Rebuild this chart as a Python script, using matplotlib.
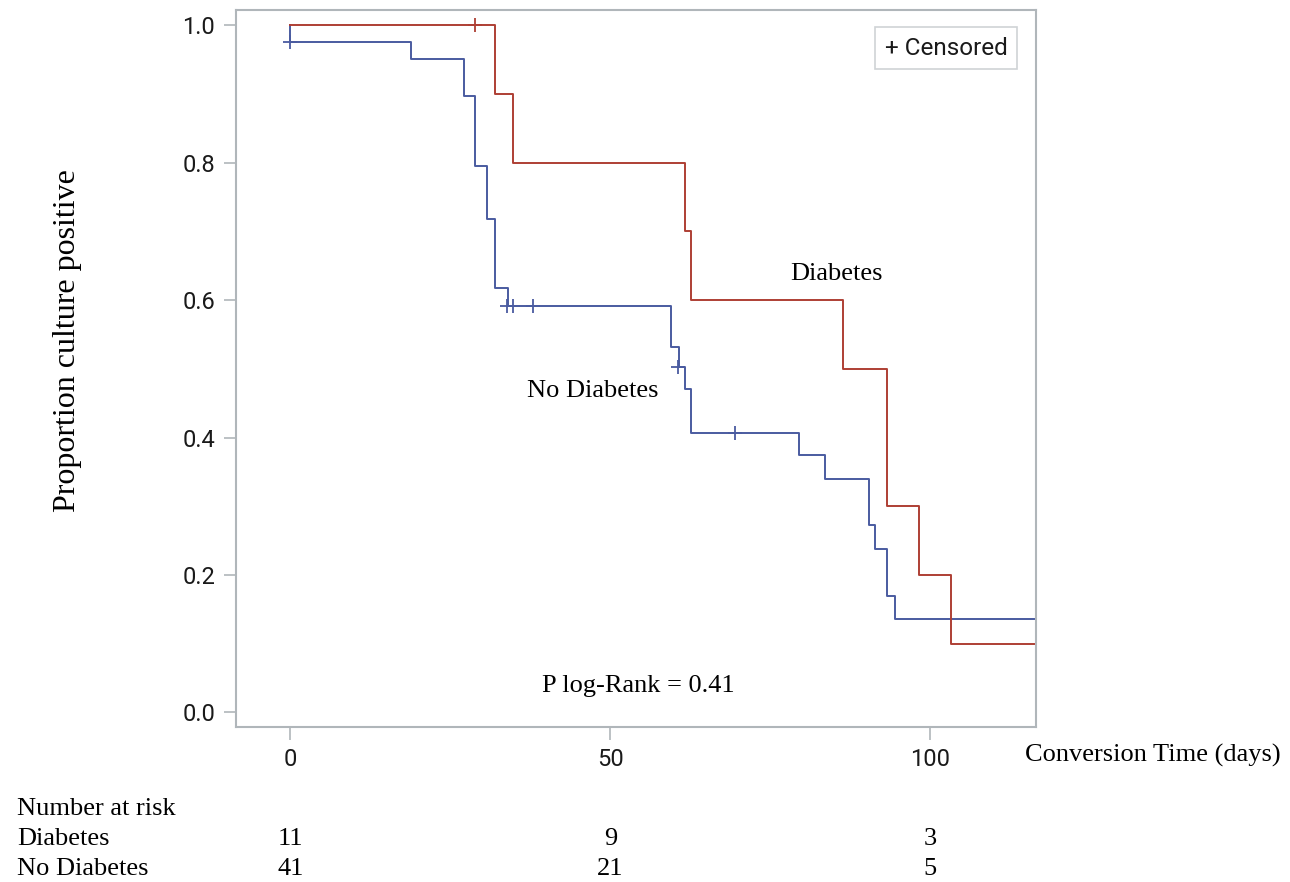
import matplotlib
matplotlib.use("Agg")
import matplotlib.pyplot as plt
from matplotlib import transforms

# ---- data ----
diab_t = [0, 32.0, 34.8, 61.7, 62.6, 86.4, 93.2, 98.2, 103.2, 116.5]
diab_s = [1.0, 0.9, 0.8, 0.7, 0.6, 0.5, 0.3, 0.2, 0.1, 0.1]
diab_cens_t = [28.9]
diab_cens_s = [1.0]

nodiab_t = [0, 0, 18.8, 27.1, 28.9, 30.7, 32.0, 34.0, 59.5, 60.7, 61.7, 62.6,
            79.5, 83.5, 90.4, 91.3, 93.2, 94.4, 116.5]
nodiab_s = [1.0, 0.976, 0.951, 0.897, 0.795, 0.718, 0.617, 0.591, 0.532, 0.503,
            0.470, 0.407, 0.374, 0.339, 0.272, 0.237, 0.170, 0.136, 0.136]
nodiab_cens_t = [0, 33.9, 34.8, 37.9, 60.6, 69.5]
nodiab_cens_s = [0.976, 0.591, 0.591, 0.591, 0.503, 0.407]

xticks = [0, 50, 100]
yticks = [0.0, 0.2, 0.4, 0.6, 0.8, 1.0]
risk_diab = ["11", "9", "3"]
risk_nodiab = ["41", "21", "5"]

RED = "#AE3F34"
BLUE = "#4A5BA0"
GRAY = "#b0b6ba"
SERIF = ["Liberation Serif", "DejaVu Serif"]
SANS = ["Roboto", "DejaVu Sans"]

fig = plt.figure(figsize=(12.9, 8.82), dpi=100)
ax = fig.add_axes([236/1290, 1 - 727/882, 800/1290, 717/882])

ax.step(nodiab_t, nodiab_s, where="post", color=BLUE, lw=1.4)
ax.step(diab_t, diab_s, where="post", color=RED, lw=1.4)
ax.plot(nodiab_cens_t, nodiab_cens_s, ls="none", marker="+", ms=10, mew=1.3, color=BLUE)
ax.plot(diab_cens_t, diab_cens_s, ls="none", marker="+", ms=10, mew=1.3, color=RED)

ax.set_xlim(-8.5, 116.5)
ax.set_ylim(-0.0214, 1.0223)
ax.set_xticks(xticks)
ax.set_xticklabels([str(v) for v in xticks], family=SANS, fontsize=17)
ax.set_yticks(yticks)
ax.set_yticklabels([f"{v:.1f}" for v in yticks], family=SANS, fontsize=17)
ax.tick_params(length=9, width=1.2, color=GRAY, pad=6, labelcolor="#1a1a1a")
for sp in ax.spines.values():
    sp.set_color(GRAY)
    sp.set_linewidth(1.5)

ax.text(85.4, 0.638, "Diabetes", family=SERIF, fontsize=19, ha="center", va="center")
ax.text(47.3, 0.467, "No Diabetes", family=SERIF, fontsize=19, ha="center", va="center")
ax.text(54.3, 0.038, "P log-Rank = 0.41", family=SERIF, fontsize=19, ha="center", va="center")

ax.text(0.8875, 0.947, "+ Censored", transform=ax.transAxes, family=SANS, fontsize=17.5,
        ha="center", va="center", color="#1a1a1a",
        bbox=dict(boxstyle="square,pad=0.38", fc="white", ec="#cfd3d6", lw=1.2))

fig.text(68/1290, 1 - 341/882, "Proportion culture positive", family=SERIF, fontsize=23,
         rotation=90, ha="center", va="center")
fig.text(1025/1290, 1 - 755/882, "Conversion Time (days)", family=SERIF, fontsize=19,
         ha="left", va="center")

blend = transforms.blended_transform_factory(ax.transData, fig.transFigure)
rows = [("Number at risk", None, 815), ("Diabetes", risk_diab, 845), ("No Diabetes", risk_nodiab, 875)]
for label, vals, ypx in rows:
    yf = 1 - ypx/882
    fig.text(17/1290, yf, label, family=SERIF, fontsize=19, ha="left", va="baseline")
    if vals:
        for xv, v in zip(xticks, vals):
            ax.text(xv, yf, v, transform=blend, family=SERIF, fontsize=19,
                    ha="center", va="baseline", clip_on=False)

fig.savefig("out.png", dpi=100)
